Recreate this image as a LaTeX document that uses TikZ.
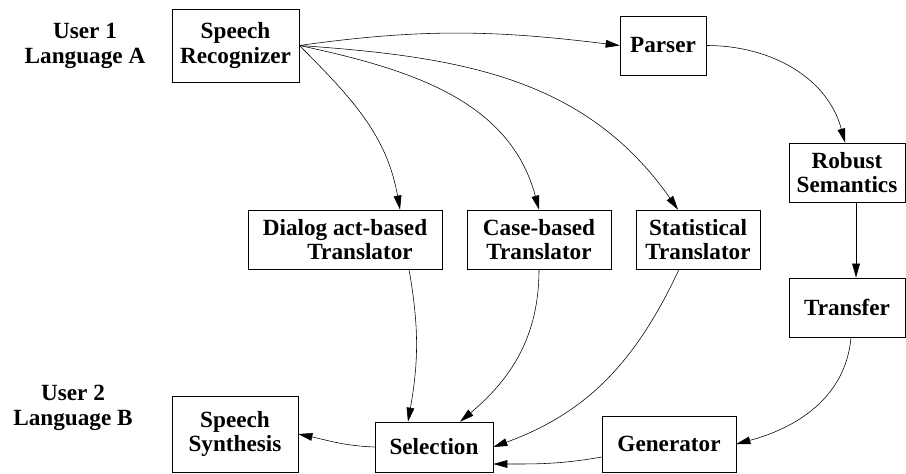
\documentclass[tikz,border=0pt]{standalone}
\usepackage{fontspec}
\setmainfont{Liberation Serif}
\usetikzlibrary{arrows.meta}
\tikzset{
  box/.style={draw,thin,align=center,inner sep=2pt,font=\fontsize{16.5}{17.5}\selectfont\bfseries},
  lbl/.style={align=center,font=\fontsize{16.5}{17.5}\selectfont\bfseries},
  flow/.style={-{Triangle[length=10pt,width=5.5pt]},thin}
}
\begin{document}
\begin{tikzpicture}[x=0.025cm,y=-0.025cm]
    \useasboundingbox (0,0) rectangle (906,473);
    % left labels
    \node[lbl] (user1) at (85,46) {User 1\\Language A};
    \node[lbl] (user2) at (73,408) {User 2\\Language B};
    % boxes
    \node[box,minimum width=3.18cm,minimum height=1.83cm] (recog) at (235.5,45.5) {Speech\\Recognizer};
    \node[box,minimum width=2.15cm,minimum height=1.48cm] (parser) at (663,45.5) {Parser};
    \node[box,minimum width=2.9cm,minimum height=1.48cm] (robust) at (847,172.5) {Robust\\Semantics};
    \node[box,minimum width=2.9cm,minimum height=1.48cm] (transfer) at (847,307.5) {Transfer};
    \node[box,minimum width=4.85cm,minimum height=1.48cm] (dialog) at (345,239.5) {Dialog act-based\\\hspace*{1.3em}Translator};
    \node[box,minimum width=3.6cm,minimum height=1.48cm] (case) at (539,239.5) {Case-based\\Translator};
    \node[box,minimum width=3.1cm,minimum height=1.48cm] (stat) at (698,239.5) {Statistical\\Translator};
    \node[box,minimum width=3.15cm,minimum height=1.9cm] (synth) at (235,434) {Speech\\Synthesis};
    \node[box,minimum width=2.95cm,minimum height=1.25cm] (select) at (434,447) {Selection};
    \node[box,minimum width=3.35cm,minimum height=1.4cm] (gen) at (669,444) {Generator};
    % connectors
    \draw[flow] (recog.east) to[out=8,in=173] (parser.west);
    \draw[flow] (recog.east) to[out=-45,in=100] (dialog.north -| 400,0);
    \draw[flow] (recog.east) to[out=-12,in=105] (case.north);
    \draw[flow] (recog.east) to[out=-4,in=125] (stat.north -| 678,0);
    \draw[flow] (parser.east) to[out=0,in=105] (robust.north -| 845,0);
    \draw[flow] (robust.south -| 856,0) -- (transfer.north -| 856,0);
    \draw[flow] (transfer.south -| 851,0) to[out=-95,in=15] (gen.east);
    \draw[flow] (dialog.south -| 409,0) to[out=-80,in=80] (select.north -| 408,0);
    \draw[flow] (case.south) to[out=-90,in=40] (select.north -| 460,0);
    \draw[flow] (stat.south -| 679,0) to[out=-115,in=20] (select.east);
    \draw[flow] (gen.west |- 0,457) to[out=190,in=0] (select.east |- 0,464);
    \draw[flow] (select.west) to[out=178,in=-12] (synth.east);
\end{tikzpicture}
\end{document}
